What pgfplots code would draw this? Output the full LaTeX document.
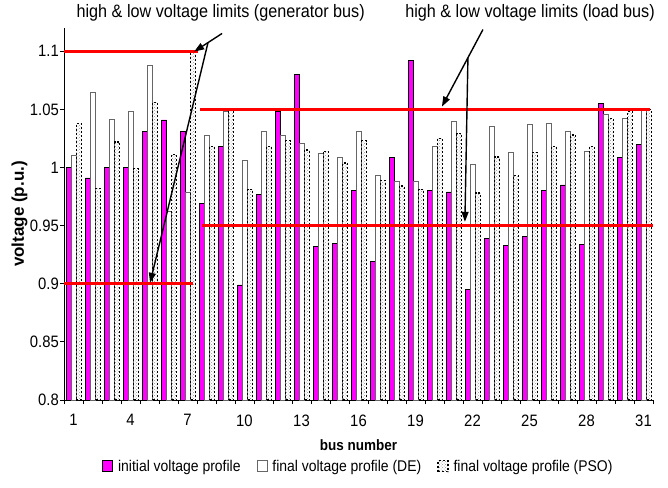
\documentclass[border=0pt]{standalone}
\usepackage{fontspec}
\setmainfont{Liberation Sans}[FakeStretch=0.9]
\newfontfamily\ylabfont{Liberation Sans}
\usepackage{pgfplots}
\pgfplotsset{compat=1.18}
\usetikzlibrary{patterns,arrows.meta}
\definecolor{barmag}{RGB}{255,0,255}
\begin{document}
\begin{tikzpicture}
\path[use as bounding box] (-64pt,-87pt) rectangle (604pt,400pt);
\begin{axis}[
  scale only axis, width=589pt, height=372pt,
  xmin=0.5, xmax=31.5, ymin=0.8, ymax=1.12,
  axis lines*=left,
  axis line style={black, line width=0.8pt},
  clip mode=individual,
  tick align=outside, major tick length=4pt,
  tick style={black, line width=0.8pt},
  xtick={0.5,1.5,...,31.5}, xticklabels={},
  extra x ticks={1,4,...,31},
  extra x tick labels={1,4,7,10,13,16,19,22,25,28,31},
  extra x tick style={major tick length=0pt, xticklabel style={yshift=-11pt}},
  ytick={0.8,0.85,0.9,0.95,1,1.05,1.1},
  yticklabels={0.8,0.85,0.9,0.95,1,1.05,1.1},
  yticklabel style={inner sep=1pt},
  ticklabel style={font=\fontsize{16.5}{18}\selectfont},
  xlabel={\fontsize{15}{16}\selectfont\bfseries bus number},
  xlabel style={yshift=-3pt},
  ylabel={\ylabfont\fontsize{17}{19}\selectfont\bfseries voltage (p.u.)},
  ylabel style={yshift=-2pt},
  legend columns=3,
  legend style={draw=none, at={(0.5,0)}, anchor=north, yshift=-56pt,
    font=\fontsize{15.5}{17}\selectfont,
    /tikz/every odd column/.append style={column sep=3pt},
    /tikz/every even column/.append style={column sep=14pt}},
  legend image code/.code={\draw[#1] (0pt,-5pt) rectangle (10pt,6pt);},
]
\addplot[ybar, bar width=5pt, bar shift=-4.5pt, fill=barmag, draw=black, line width=0.6pt]
coordinates {(1,1.000) (2,0.991) (3,1.000) (4,1.000) (5,1.031) (6,1.041) (7,1.031) (8,0.969) (9,1.018) (10,0.899) (11,0.977) (12,1.048) (13,1.080) (14,0.932) (15,0.935) (16,0.980) (17,0.919) (18,1.009) (19,1.092) (20,0.980) (21,0.979) (22,0.895) (23,0.939) (24,0.933) (25,0.941) (26,0.980) (27,0.985) (28,0.934) (29,1.055) (30,1.009) (31,1.020)};
\addlegendentry{initial voltage profile}
\addplot[ybar, bar width=5pt, bar shift=0.5pt, fill=white, draw=black!60, line width=0.8pt]
coordinates {(1,1.010) (2,1.065) (3,1.041) (4,1.048) (5,1.088) (6,0.962) (7,0.979) (8,1.028) (9,1.048) (10,1.006) (11,1.031) (12,1.028) (13,1.021) (14,1.012) (15,1.009) (16,1.031) (17,0.993) (18,0.988) (19,0.988) (20,1.018) (21,1.040) (22,1.003) (23,1.035) (24,1.013) (25,1.037) (26,1.038) (27,1.031) (28,1.014) (29,1.046) (30,1.042) (31,1.050)};
\addlegendentry{final voltage profile (DE)}
\addplot[ybar, bar width=5pt, bar shift=5.5pt, fill=white, pattern=crosshatch dots, pattern color=black!40, draw=black, line width=1.3pt, dash pattern=on 2pt off 2pt]
coordinates {(1,1.038) (2,0.982) (3,1.022) (4,0.999) (5,1.056) (6,1.011) (7,1.100) (8,1.018) (9,1.049) (10,0.981) (11,1.018) (12,1.023) (13,1.015) (14,1.014) (15,1.004) (16,1.023) (17,0.989) (18,0.984) (19,0.981) (20,1.025) (21,1.029) (22,0.978) (23,1.009) (24,0.993) (25,1.013) (26,1.018) (27,1.028) (28,1.018) (29,1.042) (30,1.048) (31,1.050)};
\addlegendentry{final voltage profile (PSO)}
% voltage limits
\addplot[red, line width=3.2pt, forget plot] coordinates {(0.5,1.1) (7.55,1.1)};
\addplot[red, line width=3.2pt, forget plot] coordinates {(0.5,0.9) (7.3,0.9)};
\addplot[red, line width=3.2pt, forget plot] coordinates {(7.66,1.05) (31.34,1.05)};
\addplot[red, line width=3.2pt, forget plot] coordinates {(7.75,0.95) (31.48,0.95)};
% annotations
\draw[line width=1.4pt, -{Triangle[length=10pt,width=7pt]}] (axis cs:8.82,1.1153) -- (axis cs:7.35,1.0997);
\draw[line width=1.4pt, -{Triangle[length=10pt,width=7pt]}] (axis cs:8.08,1.1075) -- (axis cs:5.03,0.9008);
\draw[line width=1.4pt, -{Triangle[length=10pt,width=7pt]}] (axis cs:22.55,1.1187) -- (axis cs:20.39,1.0524);
\draw[line width=1.4pt, -{Triangle[length=10pt,width=7pt]}] (axis cs:21.76,1.0946) -- (axis cs:21.6,0.9533);
\node[anchor=base east, inner sep=0pt, font=\fontsize{18}{20}\selectfont] at (axis cs:16.34,1.129) {high \& low voltage limits (generator bus)};
\node[anchor=base east, inner sep=0pt, font=\fontsize{18}{20}\selectfont] at (axis cs:31.6,1.129) {high \& low voltage limits (load bus)};
\end{axis}
\end{tikzpicture}
\end{document}
